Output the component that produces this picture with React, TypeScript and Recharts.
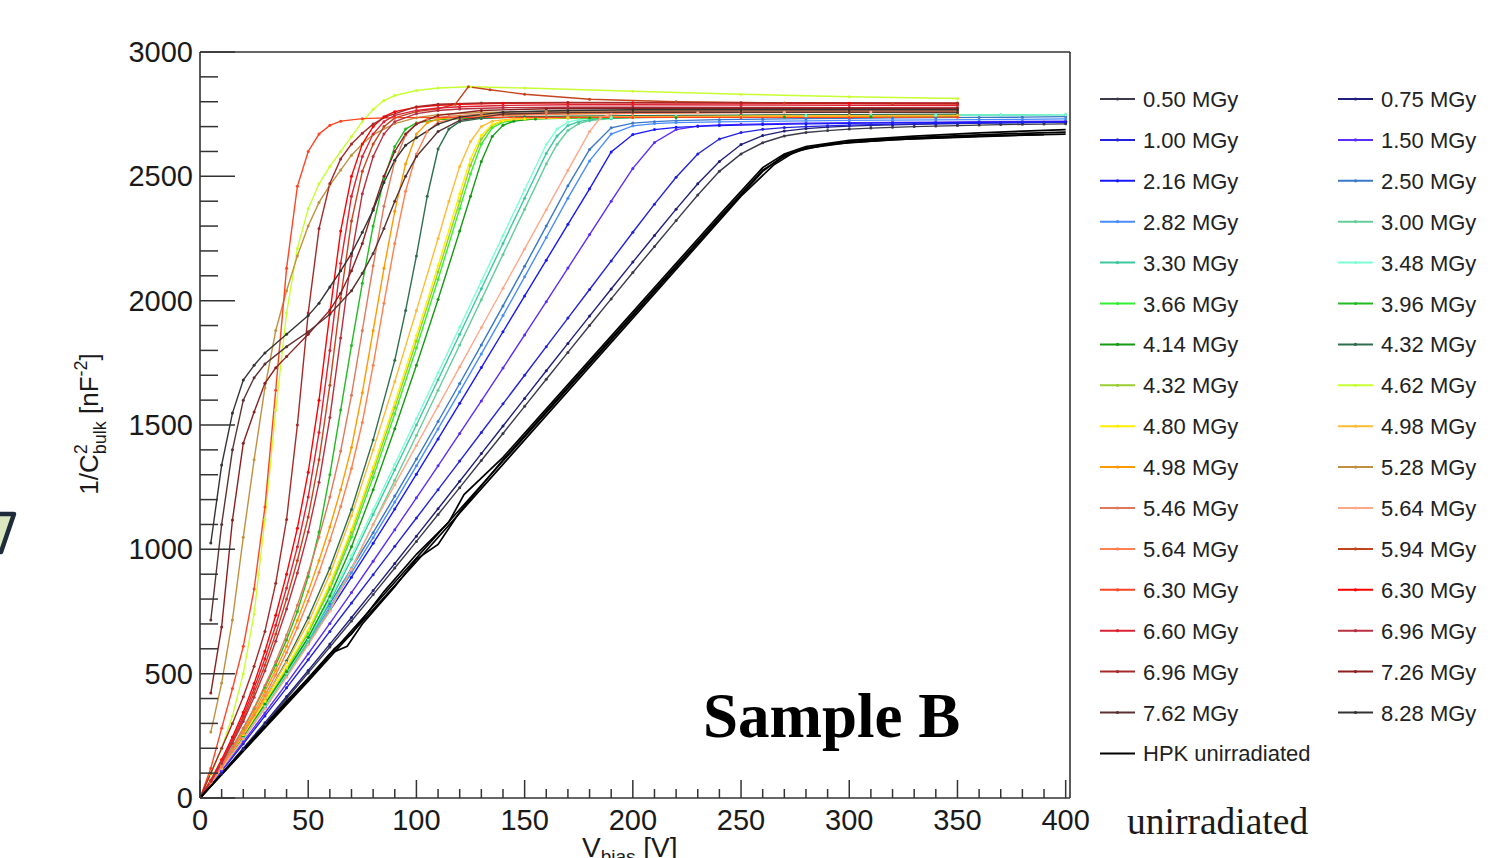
import React from "react";
import { LineChart, Line, XAxis, YAxis, ReferenceLine, Legend } from "recharts";

type P = [number, number][];

// ---- tick values ----
const X_TICKS = [0, 10, 20, 30, 40, 50, 60, 70, 80, 90, 100, 110, 120, 130, 140, 150, 160, 170, 180, 190, 200, 210, 220, 230, 240, 250, 260, 270, 280, 290, 300, 310, 320, 330, 340, 350, 360, 370, 380, 390, 400];
const Y_TICKS = [0, 100, 200, 300, 400, 500, 600, 700, 800, 900, 1000, 1100, 1200, 1300, 1400, 1500, 1600, 1700, 1800, 1900, 2000, 2100, 2200, 2300, 2400, 2500, 2600, 2700, 2800, 2900, 3000];

// ---- series values: [V_bias, 1/C^2] ----
const S_050: P = [[0,0],[10,97],[20,196],[30,297],[40,400],[50,503],[60,607],[70,712],[80,818],[90,925],[100,1032],[110,1140],[120,1248],[130,1357],[140,1466],[150,1575],[160,1684],[170,1792],[180,1900],[190,2007],[200,2113],[210,2218],[220,2322],[230,2425],[240,2520],[250,2590],[260,2635],[270,2662],[280,2676],[290,2684],[300,2690],[310,2694],[320,2697],[330,2700],[340,2702],[350,2704],[360,2706],[370,2708],[380,2709],[390,2710],[400,2711]];
const S_075: P = [[0,0],[10,99],[20,200],[30,303],[40,408],[50,513],[60,619],[70,726],[80,834],[90,943],[100,1053],[110,1163],[120,1274],[130,1385],[140,1496],[150,1607],[160,1718],[170,1828],[180,1938],[190,2047],[200,2155],[210,2262],[220,2368],[230,2470],[240,2560],[250,2628],[260,2664],[270,2682],[280,2692],[290,2698],[300,2702],[310,2705],[320,2707],[330,2709],[340,2711],[350,2712],[360,2714],[370,2715],[380,2716],[390,2717],[400,2718]];
const S_100: P = [[0,0],[10,108],[20,218],[30,330],[40,443],[50,556],[60,670],[70,784],[80,898],[90,1012],[100,1126],[110,1240],[120,1355],[130,1470],[140,1585],[150,1700],[160,1815],[170,1930],[180,2045],[190,2160],[200,2275],[210,2388],[220,2496],[230,2590],[240,2650],[250,2676],[260,2689],[270,2696],[280,2700],[290,2703],[300,2706],[310,2708],[320,2710],[330,2711],[340,2712],[350,2713],[360,2714],[370,2715],[380,2716],[390,2717],[400,2718]];
const S_150: P = [[0,0],[10,112],[20,226],[30,342],[40,460],[50,580],[60,702],[70,826],[80,952],[90,1079],[100,1207],[110,1336],[120,1466],[130,1597],[140,1729],[150,1862],[160,1996],[170,2131],[180,2266],[190,2400],[200,2532],[210,2636],[220,2688],[230,2702],[240,2707],[250,2709],[260,2711],[280,2714],[300,2716],[320,2717],[340,2718],[360,2720],[380,2721],[400,2722]];
const S_216: P = [[0,0],[10,118],[20,240],[30,365],[40,492],[50,622],[60,754],[70,888],[80,1024],[90,1162],[100,1302],[110,1444],[120,1587],[130,1731],[140,1875],[150,2019],[160,2163],[170,2307],[180,2450],[190,2598],[200,2668],[210,2688],[220,2697],[230,2701],[240,2704],[260,2708],[280,2711],[300,2713],[320,2715],[340,2716],[360,2717],[380,2719],[400,2720]];
const S_250: P = [[0,0],[10,122],[20,248],[30,377],[40,509],[50,644],[60,782],[70,923],[80,1067],[90,1214],[100,1363],[110,1514],[120,1667],[130,1822],[140,1979],[150,2138],[160,2300],[170,2462],[180,2608],[190,2695],[200,2714],[210,2720],[220,2724],[240,2728],[260,2730],[280,2732],[300,2733],[320,2735],[340,2736],[360,2737],[380,2738],[400,2740]];
const S_282: P = [[0,0],[10,120],[20,244],[30,371],[40,500],[50,633],[60,768],[70,906],[80,1047],[90,1190],[100,1336],[110,1484],[120,1634],[130,1786],[140,1940],[150,2096],[160,2254],[170,2412],[180,2562],[190,2670],[200,2703],[210,2712],[220,2716],[240,2719],[260,2721],[280,2723],[300,2725],[320,2726],[340,2727],[360,2728],[380,2729],[400,2731]];
const S_300: P = [[0,0],[10,118],[20,238],[30,362],[40,490],[50,622],[60,762],[70,925],[80,1100],[90,1278],[100,1458],[110,1640],[120,1822],[130,2004],[140,2186],[150,2368],[160,2550],[165,2628],[170,2684],[175,2712],[180,2724],[190,2732],[200,2736],[220,2739],[250,2742],[280,2744],[310,2745],[340,2746],[370,2747],[400,2748]];
const S_330: P = [[0,0],[10,120],[20,242],[30,368],[40,498],[50,632],[60,790],[70,960],[80,1140],[90,1320],[100,1500],[110,1682],[120,1865],[130,2048],[140,2230],[150,2412],[160,2592],[165,2662],[170,2704],[175,2720],[180,2728],[190,2734],[200,2737],[220,2740],[250,2742],[280,2744],[310,2745],[340,2746],[370,2747],[400,2748]];
const S_348: P = [[0,0],[10,121],[20,245],[30,372],[40,503],[50,640],[60,800],[70,975],[80,1158],[90,1342],[100,1526],[110,1710],[120,1894],[130,2078],[140,2262],[150,2446],[160,2628],[165,2690],[170,2718],[175,2728],[180,2733],[190,2737],[200,2739],[220,2741],[250,2743],[280,2744],[310,2745],[340,2746],[370,2747],[400,2748]];
const S_366: P = [[0,0],[10,124],[20,252],[30,385],[40,518],[50,662],[60,840],[70,1050],[80,1290],[90,1545],[100,1810],[110,2085],[120,2370],[125,2510],[130,2630],[135,2695],[140,2718],[150,2730],[170,2735],[200,2737],[250,2739],[300,2740],[350,2741]];
const S_396: P = [[0,0],[5,65],[10,135],[15,205],[20,280],[25,360],[30,445],[35,535],[40,635],[45,750],[50,890],[55,1070],[60,1300],[65,1560],[70,1820],[75,2070],[80,2300],[85,2490],[90,2620],[95,2690],[100,2715],[110,2728],[130,2735],[160,2740],[200,2742],[250,2744],[300,2746],[350,2748]];
const S_414: P = [[0,0],[10,122],[20,248],[30,378],[40,508],[50,645],[60,812],[70,1010],[80,1240],[90,1485],[100,1740],[110,2005],[120,2280],[125,2420],[130,2560],[135,2660],[140,2705],[145,2722],[155,2731],[180,2735],[220,2737],[270,2739],[310,2740],[350,2741]];
const S_432A: P = [[0,0],[10,125],[20,258],[30,398],[40,552],[50,725],[60,925],[70,1160],[80,1440],[90,1760],[95,1960],[100,2180],[105,2420],[110,2610],[115,2690],[120,2720],[130,2733],[150,2740],[200,2744],[250,2746],[300,2748],[350,2750]];
const S_432B: P = [[0,0],[10,125],[20,254],[30,388],[40,522],[50,670],[60,850],[70,1068],[80,1312],[90,1570],[100,1838],[110,2115],[120,2400],[125,2545],[130,2650],[135,2704],[140,2722],[150,2731],[170,2736],[200,2738],[250,2741],[300,2743],[350,2744]];
const S_462: P = [[0,0],[5,95],[10,200],[15,330],[20,500],[25,740],[30,1120],[35,1560],[40,1950],[45,2210],[50,2370],[55,2470],[60,2540],[65,2600],[70,2660],[75,2720],[80,2770],[85,2805],[90,2825],[100,2845],[110,2855],[125,2860],[150,2855],[200,2842],[250,2830],[300,2820],[350,2813]];
const S_480: P = [[0,0],[10,125],[20,255],[30,390],[40,525],[50,675],[60,860],[70,1080],[80,1330],[90,1590],[100,1860],[110,2140],[120,2430],[125,2570],[130,2665],[135,2708],[140,2724],[150,2732],[170,2736],[200,2738],[250,2740],[300,2742],[350,2743]];
const S_498A: P = [[0,0],[10,127],[20,260],[30,400],[40,545],[50,705],[60,900],[70,1135],[80,1400],[90,1675],[100,1960],[110,2250],[115,2400],[120,2540],[125,2640],[130,2700],[135,2722],[145,2732],[170,2737],[200,2740],[250,2742],[300,2744],[350,2745]];
const S_498B: P = [[0,0],[5,62],[10,128],[15,196],[20,268],[25,345],[30,428],[35,515],[40,610],[45,715],[50,830],[55,955],[60,1090],[65,1240],[70,1410],[75,1630],[80,1880],[85,2130],[90,2360],[95,2550],[100,2670],[105,2715],[110,2730],[120,2740],[140,2748],[170,2752],[200,2755],[250,2758],[300,2760],[350,2762]];
const S_528: P = [[5,265],[10,462],[15,716],[20,1049],[25,1360],[30,1650],[35,1880],[40,2040],[45,2180],[50,2300],[55,2395],[60,2465],[65,2525],[70,2585],[75,2630],[80,2668],[90,2712],[100,2736],[110,2748],[130,2757],[160,2762],[200,2764],[250,2765],[300,2765],[350,2766]];
const S_546: P = [[0,0],[5,64],[10,132],[15,203],[20,280],[25,362],[30,452],[35,548],[40,655],[45,775],[50,905],[55,1050],[60,1210],[65,1395],[70,1620],[75,1880],[80,2140],[85,2380],[90,2560],[95,2665],[100,2712],[105,2730],[115,2742],[130,2750],[160,2756],[200,2760],[250,2763],[300,2765],[350,2767]];
const S_564A: P = [[0,0],[10,118],[20,238],[30,360],[40,486],[50,616],[60,752],[70,920],[80,1100],[90,1260],[100,1418],[110,1576],[120,1734],[130,1892],[140,2050],[150,2208],[160,2366],[170,2524],[180,2680],[185,2735],[190,2750],[200,2754],[230,2756],[270,2758],[310,2759],[350,2760]];
const S_564B: P = [[0,0],[5,61],[10,125],[15,191],[20,260],[25,333],[30,412],[35,495],[40,585],[45,685],[50,792],[55,908],[60,1035],[65,1172],[70,1325],[75,1510],[80,1740],[85,1990],[90,2230],[95,2440],[100,2590],[105,2680],[110,2718],[120,2735],[140,2745],[170,2750],[200,2753],[250,2756],[300,2758],[350,2760]];
const S_594: P = [[0,0],[5,68],[10,145],[15,228],[20,318],[25,422],[30,535],[35,660],[40,800],[45,955],[50,1130],[55,1360],[60,1660],[65,2010],[70,2320],[75,2520],[80,2630],[85,2700],[90,2735],[100,2760],[110,2772],[118,2790],[124,2860],[134,2848],[150,2830],[180,2810],[220,2800],[270,2795],[320,2792],[350,2791]];
const S_630A: P = [[0,0],[5,120],[10,280],[15,440],[20,610],[25,840],[30,1170],[35,1640],[40,2130],[45,2460],[50,2600],[55,2670],[60,2705],[65,2722],[75,2732],[90,2736],[120,2737],[160,2737],[200,2737],[250,2737],[300,2737],[350,2738]];
const S_630B: P = [[0,0],[5,72],[10,155],[15,245],[20,345],[25,460],[30,590],[35,735],[40,900],[45,1085],[50,1310],[55,1600],[60,1950],[65,2280],[70,2500],[75,2630],[80,2700],[85,2740],[90,2760],[100,2778],[110,2786],[120,2790],[140,2794],[170,2796],[200,2796],[250,2795],[300,2794],[350,2793]];
const S_660: P = [[0,0],[5,70],[10,150],[15,235],[20,330],[25,440],[30,560],[35,695],[40,845],[45,1010],[50,1210],[55,1470],[60,1800],[65,2150],[70,2420],[75,2580],[80,2670],[85,2720],[90,2745],[100,2765],[110,2775],[120,2780],[140,2785],[170,2788],[200,2788],[250,2787],[300,2786],[350,2785]];
const S_696A: P = [[0,0],[5,66],[10,140],[15,220],[20,308],[25,405],[30,512],[35,630],[40,760],[45,905],[50,1070],[55,1270],[60,1530],[65,1850],[70,2180],[75,2430],[80,2580],[85,2670],[90,2720],[100,2752],[110,2765],[120,2771],[140,2776],[170,2778],[200,2778],[250,2777],[300,2776],[350,2775]];
const S_696B: P = [[0,0],[5,100],[10,200],[15,300],[20,407],[25,530],[30,670],[35,864],[40,1120],[45,1500],[50,1950],[55,2290],[60,2471],[65,2570],[70,2630],[75,2673],[80,2710],[86,2740],[100,2780],[110,2790],[130,2795],[170,2797],[250,2796],[350,2795]];
const S_726: P = [[5,422],[10,688],[15,1118],[20,1427],[25,1552],[30,1668],[35,1730],[40,1775],[50,1865],[60,1962],[65,2030],[70,2120],[75,2230],[80,2370],[85,2500],[90,2600],[95,2670],[100,2710],[110,2745],[130,2765],[160,2772],[200,2774],[250,2774],[300,2774],[350,2774]];
const S_762: P = [[5,716],[10,1100],[15,1400],[20,1600],[25,1690],[30,1745],[40,1815],[50,1875],[60,1945],[70,2040],[75,2110],[80,2190],[85,2290],[90,2400],[95,2500],[100,2580],[110,2680],[120,2725],[140,2750],[170,2756],[200,2758],[250,2758],[300,2758],[350,2758]];
const S_828: P = [[5,1025],[10,1339],[15,1548],[20,1681],[25,1740],[30,1790],[40,1865],[50,1940],[55,1990],[60,2055],[65,2120],[70,2190],[75,2275],[80,2364],[85,2475],[90,2565],[95,2625],[100,2655],[110,2710],[120,2738],[140,2758],[170,2765],[200,2768],[250,2768],[300,2768],[350,2768]];
const HPK_A: P = [[0,0],[20,190],[40,380],[60,575],[80,770],[100,965],[120,1160],[140,1355],[160,1550],[180,1745],[200,1940],[220,2135],[240,2330],[260,2520],[270,2585],[280,2615],[290,2630],[300,2640],[320,2652],[340,2660],[360,2667],[380,2673],[400,2678]];
const HPK_B: P = [[0,0],[20,195],[40,390],[55,525],[62,600],[70,660],[85,830],[100,980],[115,1110],[122,1220],[140,1370],[160,1565],[180,1760],[200,1955],[220,2150],[240,2345],[260,2535],[270,2590],[280,2620],[300,2645],[330,2662],[360,2675],[400,2688]];
const HPK_C: P = [[0,0],[20,192],[40,385],[60,580],[68,610],[75,700],[90,850],[100,960],[110,1020],[120,1150],[140,1360],[160,1555],[180,1750],[200,1945],[220,2140],[240,2335],[260,2525],[270,2580],[280,2612],[300,2636],[330,2652],[360,2662],[400,2670]];
const HPK_D: P = [[0,0],[50,470],[100,950],[150,1440],[200,1930],[250,2420],[265,2545],[275,2600],[290,2628],[320,2648],[360,2660],[390,2668]];

// ---- series metadata (legend order) ----
const SERIES: { name: string; color: string; data: P }[] = [
  { name: "0.50 MGy", color: "#3a3a4a", data: S_050 },
  { name: "0.75 MGy", color: "#20207a", data: S_075 },
  { name: "1.00 MGy", color: "#2222dd", data: S_100 },
  { name: "1.50 MGy", color: "#5a2dff", data: S_150 },
  { name: "2.16 MGy", color: "#1818ff", data: S_216 },
  { name: "2.50 MGy", color: "#3a78c8", data: S_250 },
  { name: "2.82 MGy", color: "#4a8cff", data: S_282 },
  { name: "3.00 MGy", color: "#66cc99", data: S_300 },
  { name: "3.30 MGy", color: "#3fc8a0", data: S_330 },
  { name: "3.48 MGy", color: "#7dffd2", data: S_348 },
  { name: "3.66 MGy", color: "#33ee33", data: S_366 },
  { name: "3.96 MGy", color: "#22bb22", data: S_396 },
  { name: "4.14 MGy", color: "#159a15", data: S_414 },
  { name: "4.32 MGy", color: "#2e6e4e", data: S_432A },
  { name: "4.32 MGy", color: "#9acd32", data: S_432B },
  { name: "4.62 MGy", color: "#c8ff32", data: S_462 },
  { name: "4.80 MGy", color: "#ffee00", data: S_480 },
  { name: "4.98 MGy", color: "#ffbb33", data: S_498A },
  { name: "4.98 MGy", color: "#ff9900", data: S_498B },
  { name: "5.28 MGy", color: "#c09040", data: S_528 },
  { name: "5.46 MGy", color: "#e0785a", data: S_546 },
  { name: "5.64 MGy", color: "#ffa888", data: S_564A },
  { name: "5.64 MGy", color: "#ff7f50", data: S_564B },
  { name: "5.94 MGy", color: "#c4441e", data: S_594 },
  { name: "6.30 MGy", color: "#ff4422", data: S_630A },
  { name: "6.30 MGy", color: "#ff0000", data: S_630B },
  { name: "6.60 MGy", color: "#dd2233", data: S_660 },
  { name: "6.96 MGy", color: "#b83040", data: S_696A },
  { name: "6.96 MGy", color: "#a52a2a", data: S_696B },
  { name: "7.26 MGy", color: "#8b2020", data: S_726 },
  { name: "7.62 MGy", color: "#5a3232", data: S_762 },
  { name: "8.28 MGy", color: "#333333", data: S_828 },
];
const HPK_LINES: P[] = [HPK_A, HPK_B, HPK_C, HPK_D];
const HPK_NAME = "HPK unirradiated";

const toPts = (arr: P) => arr.map(([v, c]) => ({ v, c }));

const FONT = "'Liberation Sans', Arial, Helvetica, sans-serif";
const SERIF = "'Liberation Serif', 'Times New Roman', serif";

const XTick = (props: any) => {
  const { x, y, payload } = props;
  const v = payload.value as number;
  const major = v % 50 === 0;
  return (
    <g>
      <line x1={x} x2={x} y1={y} y2={y - (major ? 18 : 9)} stroke="#333" strokeWidth={1.5} />
      {major && (
        <text x={x} y={y + 32} textAnchor="middle" fontSize={29} fill="#1a1a1a" fontFamily={FONT}>
          {v}
        </text>
      )}
    </g>
  );
};

const YTick = (props: any) => {
  const { x, y, payload } = props;
  const v = payload.value as number;
  const major = v % 500 === 0;
  return (
    <g>
      <line x1={x} x2={x + (major ? 35 : 18)} y1={y} y2={y} stroke="#333" strokeWidth={1.5} />
      {major && (
        <text x={x - 7} y={y + 10} textAnchor="end" fontSize={29} fill="#1a1a1a" fontFamily={FONT}>
          {v}
        </text>
      )}
    </g>
  );
};

const LegendBox = () => {
  const rows: { name: string; color: string; marker: boolean }[] = [
    ...SERIES.map((s) => ({ name: s.name, color: s.color, marker: true })),
    { name: HPK_NAME, color: "#000000", marker: false },
  ];
  const rowH = 40.9;
  return (
    <svg width={405} height={720} style={{ display: "block" }}>
      {rows.map((r, i) => {
        const col = i % 2;
        const row = Math.floor(i / 2);
        const cy = 21 + row * rowH;
        const lx = col === 0 ? 10 : 248;
        return (
          <g key={i}>
            <line x1={lx} x2={lx + 35} y1={cy} y2={cy} stroke={r.color} strokeWidth={2} />
            {r.marker && <circle cx={lx + 17.5} cy={cy} r={1.6} fill={r.color} />}
            <text x={lx + 43} y={cy + 8} fontSize={22} fill="#222" fontFamily={FONT}>
              {r.name}
            </text>
          </g>
        );
      })}
    </svg>
  );
};

export default function App() {
  return (
    <div style={{ position: "absolute", left: 0, top: 0, width: 1495, height: 858, overflow: "hidden", background: "#fff" }}>
      <LineChart width={1495} height={858} margin={{ top: 52, right: 425, bottom: 0, left: 0 }}>
        <XAxis
          type="number"
          dataKey="v"
          domain={[0, 402]}
          allowDataOverflow
          ticks={X_TICKS}
          interval={0}
          tickSize={0}
          tickMargin={0}
          tickLine={false}
          tick={XTick}
          height={60}
          axisLine={{ stroke: "#333", strokeWidth: 1.6 }}
        />
        <YAxis
          type="number"
          dataKey="c"
          domain={[0, 3000]}
          allowDataOverflow
          ticks={Y_TICKS}
          interval={0}
          tickSize={0}
          tickMargin={0}
          tickLine={false}
          tick={YTick}
          width={200}
          axisLine={{ stroke: "#333", strokeWidth: 1.6 }}
        />
        <ReferenceLine x={402} stroke="#333" strokeWidth={1.6} />
        <ReferenceLine y={3000} stroke="#333" strokeWidth={1.6} />
        {SERIES.map((s, i) => (
          <Line
            key={"s" + i}
            data={toPts(s.data)}
            dataKey="c"
            name={s.name}
            type="linear"
            stroke={s.color}
            strokeWidth={1.4}
            dot={{ r: 1.5, fill: s.color, stroke: s.color, strokeWidth: 0 }}
            activeDot={false}
            isAnimationActive={false}
          />
        ))}
        {HPK_LINES.map((d, i) => (
          <Line
            key={"h" + i}
            data={toPts(d)}
            dataKey="c"
            name={HPK_NAME}
            type="linear"
            stroke="#000"
            strokeWidth={1.7}
            dot={false}
            activeDot={false}
            isAnimationActive={false}
          />
        ))}
        <Legend
          layout="vertical"
          align="center"
          verticalAlign="middle"
          wrapperStyle={{ position: "absolute", left: 1090, top: 78, width: 405, height: 720 }}
          content={() => <LegendBox />}
        />
      </LineChart>
      <svg
        width={1495}
        height={858}
        style={{ position: "absolute", left: 0, top: 0, pointerEvents: "none" }}
      >
        <polygon points="-12,514 14,514 1,552 -12,552" fill="#dbe7bf" stroke="#1e2b3b" strokeWidth={4.5} strokeLinejoin="round" />
        <text transform="translate(98,424) rotate(-90)" textAnchor="middle" fontSize={26} fill="#1a1a1a" fontFamily={FONT}>
          <tspan>1/C</tspan>
          <tspan fontSize={18} dy={-11}>2</tspan>
          <tspan fontSize={18} dx={-10} dy={19}>bulk</tspan>
          <tspan dy={-8}> [nF</tspan>
          <tspan fontSize={18} dy={-11}>-2</tspan>
          <tspan dy={11}>]</tspan>
        </text>
        <text x={582} y={857} fontSize={28} fill="#1a1a1a" fontFamily={FONT}>
          <tspan>V</tspan>
          <tspan fontSize={19} dy={6}>bias</tspan>
          <tspan dy={-6}> [V]</tspan>
        </text>
        <text x={703} y={737} fontSize={63} fontWeight="bold" fill="#000" fontFamily={SERIF}>
          Sample B
        </text>
        <text x={1127} y={834} fontSize={37.5} fill="#1a1a1a" fontFamily={SERIF}>
          unirradiated
        </text>
      </svg>
    </div>
  );
}
